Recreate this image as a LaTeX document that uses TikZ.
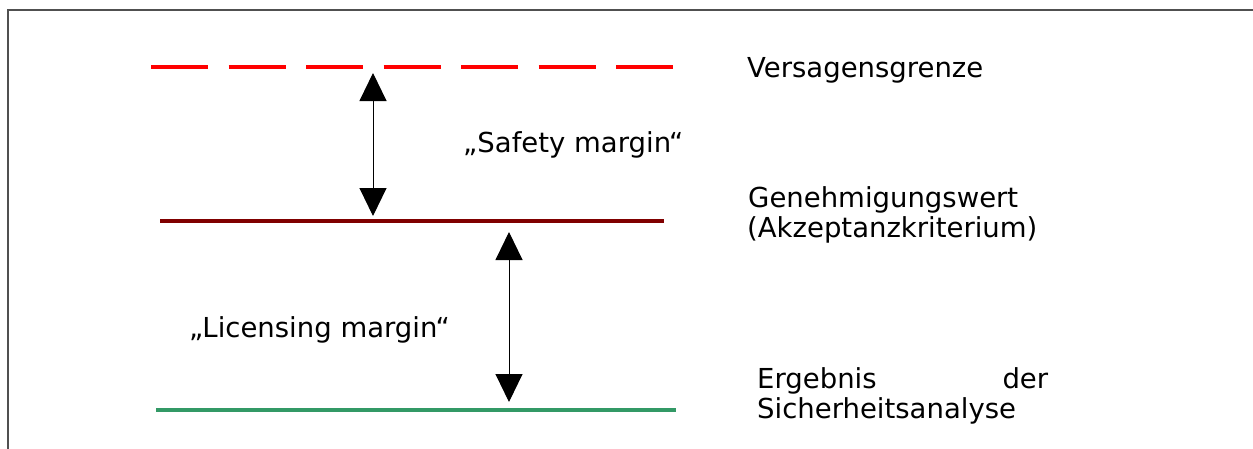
\documentclass[tikz,border=0pt]{standalone}
\usepackage{fontspec}
\setmainfont{DejaVu Sans}
\usetikzlibrary{arrows.meta}
\definecolor{failred}{RGB}{255,0,0}
\definecolor{limitred}{RGB}{128,0,0}
\definecolor{resgreen}{RGB}{51,153,102}
\definecolor{framegray}{RGB}{80,80,80}
\begin{document}
\begin{tikzpicture}[x=1pt,y=-1pt,
  lbl/.style={anchor=base west,inner sep=0pt,font=\fontsize{27.5}{30}\selectfont},
  level/.style={line width=4pt},
  margin/.style={line width=1pt,{Triangle[length=28pt,width=27pt]}-{Triangle[length=28pt,width=27pt]}}]
\useasboundingbox (0,0) rectangle (1253,448);
\draw[framegray,line width=2pt] (8,449) -- (8,9.5) -- (1254,9.5);
% levels
\coordinate (fA) at (151,67);  \coordinate (fB) at (676,67);
\coordinate (gA) at (160,221); \coordinate (gB) at (664,221);
\coordinate (eA) at (156,410); \coordinate (eB) at (676,410);
\draw[level,failred,dash pattern=on 57pt off 20.5pt] (fA) -- (fB);
\draw[level,limitred] (gA) -- (gB);
\draw[level,resgreen] (eA) -- (eB);
% arrow end points
\coordinate (s1) at (373,73);  \coordinate (s2) at (373,216);
\coordinate (l1) at (509,232); \coordinate (l2) at (509,402);
\draw[margin] (s1) -- (s2);
\draw[margin] (l1) -- (l2);
% labels
\node[lbl] (vg) at (747,77) {Versagensgrenze};
\node[lbl] (gw) at (748,207) {Genehmigungswert};
\node[lbl] (ak) at (747,237) {(Akzeptanzkriterium)};
\node[lbl] (er) at (757,388) {\makebox[291pt][s]{Ergebnis\hfill der}};
\node[lbl] (sa) at (757,418) {Sicherheitsanalyse};
\node[lbl] (sm) at (463,152) {„Safety margin“};
\node[lbl] (lm) at (189,337) {„Licensing margin“};
\end{tikzpicture}
\end{document}
